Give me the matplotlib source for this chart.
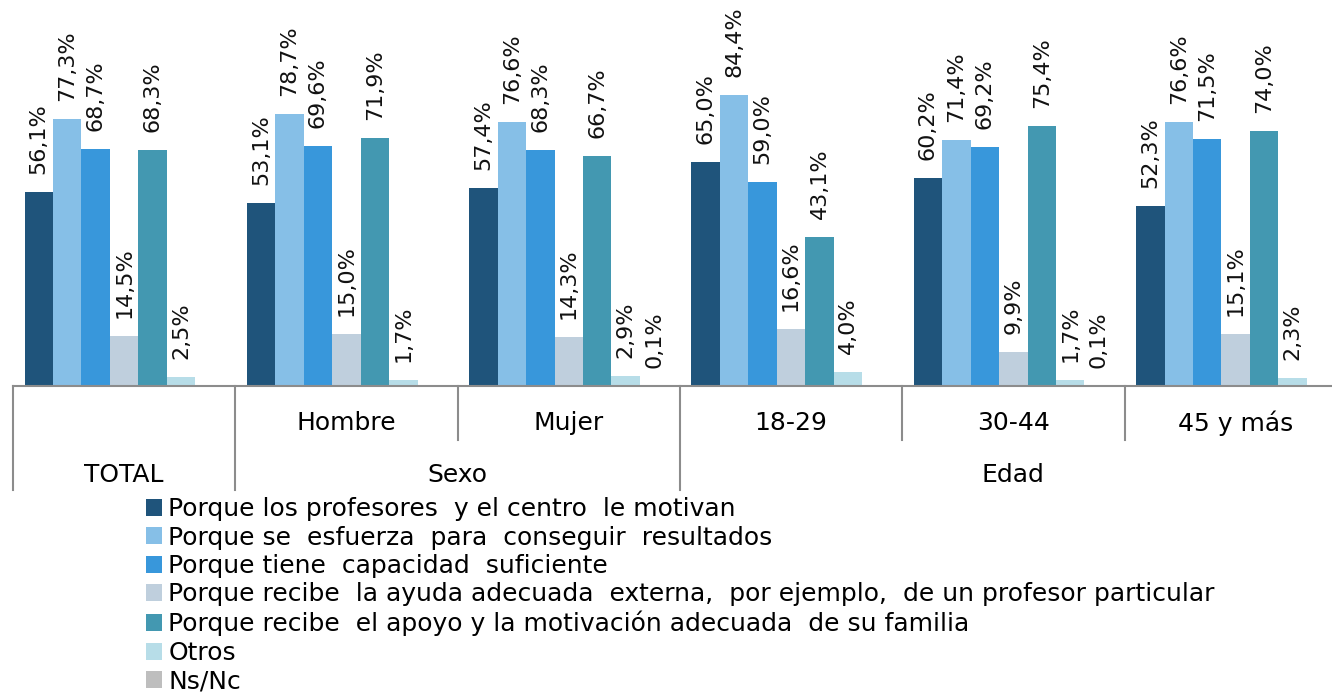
import matplotlib
matplotlib.use("Agg")
import matplotlib.pyplot as plt
import matplotlib.transforms as mtransforms
from matplotlib.patches import Patch
import numpy as np

plt.rcParams['font.family'] = ['DejaVu Sans']

# grupos y series
grupos = ['TOTAL', 'Hombre', 'Mujer', '18-29', '30-44', '45 y más']
sub_labels = ['', 'Hombre', 'Mujer', '18-29', '30-44', '45 y más']
series = [
    'Porque los profesores  y el centro  le motivan',
    'Porque se  esfuerza  para  conseguir  resultados',
    'Porque tiene  capacidad  suficiente',
    'Porque recibe  la ayuda adecuada  externa,  por ejemplo,  de un profesor particular',
    'Porque recibe  el apoyo y la motivación adecuada  de su familia',
    'Otros',
    'Ns/Nc',
]
profesores = [56.1, 53.1, 57.4, 65.0, 60.2, 52.3]
esfuerzo = [77.3, 78.7, 76.6, 84.4, 71.4, 76.6]
capacidad = [68.7, 69.6, 68.3, 59.0, 69.2, 71.5]
ayuda_ext = [14.5, 15.0, 14.3, 16.6, 9.9, 15.1]
familia = [68.3, 71.9, 66.7, 43.1, 75.4, 74.0]
otros = [2.5, 1.7, 2.9, 4.0, 1.7, 2.3]
nsnc = [np.nan, np.nan, 0.1, np.nan, 0.1, np.nan]
valores = [profesores, esfuerzo, capacidad, ayuda_ext, familia, otros, nsnc]

colores = ['#1F547B', '#86BFE7', '#3897DB', '#BFCFDD', '#4398B1', '#B7DDE8', '#BEBEBE']

W, H = 1332, 697
fig = plt.figure(figsize=(W/100, H/100), dpi=100)
# ejes colocados en pixeles: grupo = 222.3 px, base en y=386
gw = 222.3
x0 = 13
base = 386
ytop = 100
ax = fig.add_axes([x0/W, 1-base/H, (W-x0)/W, ytop*3.45/H])
ax.set_xlim(0, (W-x0)/gw)
ax.set_ylim(0, ytop)

bw = 0.128
nser = len(valores)
start = 0.5 - nser*bw/2
for j, vals in enumerate(valores):
    xs = np.arange(len(grupos)) + start + j*bw + bw/2
    v = np.array(vals, dtype=float)
    ax.bar(xs, np.nan_to_num(v), bw, color=colores[j], linewidth=0)
    for xi, vi in zip(xs, v):
        if np.isnan(vi):
            continue
        ax.annotate('{:.1f}%'.format(vi).replace('.', ','), xy=(xi, vi),
                    xytext=(0, 13), textcoords='offset points',
                    rotation=90, ha='center', va='bottom', fontsize=16, color='#111111')

for s in ['top', 'right', 'left']:
    ax.spines[s].set_visible(False)
ax.spines['bottom'].set_color('#8C8C8C')
ax.spines['bottom'].set_linewidth(1.5)
ax.set_xticks([])
ax.set_yticks([])

# eje de categorías en dos niveles
trans = mtransforms.blended_transform_factory(ax.transData, ax.transAxes)
ah = ytop*3.45
def yax(py):
    return -(py - base)/ah

for xl in [0, 1, 3]:
    ax.plot([xl, xl], [0, yax(490)], transform=trans, color='#8C8C8C', lw=1.5, clip_on=False)
for xl in [2, 4, 5]:
    ax.plot([xl, xl], [0, yax(440)], transform=trans, color='#8C8C8C', lw=1.5, clip_on=False)

for i, lab in enumerate(sub_labels):
    if lab:
        ax.text(i + 0.5, yax(423), lab, transform=trans, ha='center', va='center', fontsize=18)
ax.text(0.5, yax(475), 'TOTAL', transform=trans, ha='center', va='center', fontsize=18)
ax.text(2.0, yax(475), 'Sexo', transform=trans, ha='center', va='center', fontsize=18)
ax.text(4.5, yax(475), 'Edad', transform=trans, ha='center', va='center', fontsize=18)

handles = [Patch(facecolor=c, edgecolor='none') for c in colores]
fig.legend(handles, series, loc='upper left', bbox_to_anchor=(146/W, 1-497/H),
           frameon=False, fontsize=18, handlelength=0.65, handleheight=0.65,
           handletextpad=0.25, labelspacing=0.18, borderpad=0, borderaxespad=0)

fig.savefig('out.png', dpi=100)
